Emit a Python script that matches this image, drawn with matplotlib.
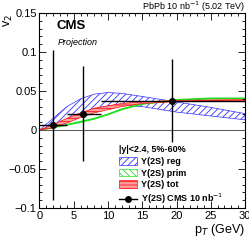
import numpy as np
import matplotlib
matplotlib.use("Agg")
import matplotlib.pyplot as plt
from matplotlib.patches import Patch
from matplotlib.lines import Line2D
from matplotlib.ticker import MultipleLocator, FuncFormatter

plt.rcParams['font.family'] = ['Liberation Sans', 'DejaVu Sans']
plt.rcParams['hatch.linewidth'] = 0.6

# model bands: pT grid and lower / upper edges of v2
pt_band = [0, 2, 4, 6, 8, 10, 12, 15, 20, 25, 30]
reg_lo = [0, 0.006, 0.014, 0.021, 0.027, 0.031, 0.032, 0.030, 0.023, 0.018, 0.013]
reg_hi = [0, 0.015, 0.030, 0.040, 0.046, 0.048, 0.047, 0.043, 0.036, 0.029, 0.021]
tot_lo = [0, 0.003, 0.009, 0.016, 0.022, 0.026, 0.030, 0.034, 0.0365, 0.0375, 0.038]
tot_hi = [0, 0.007, 0.015, 0.022, 0.028, 0.031, 0.034, 0.036, 0.038, 0.0385, 0.039]
prim_lo = [0, 0.0028, 0.0062, 0.0098, 0.014, 0.0195, 0.026, 0.033, 0.038, 0.040, 0.040]
prim_hi = [0, 0.0038, 0.0072, 0.011, 0.015, 0.0205, 0.027, 0.034, 0.039, 0.041, 0.041]

# projected CMS points
pt_pts = [2, 6.4, 19.3]
pt_lo = [0, 4, 9]
pt_hi = [4, 9, 30]
v2_pts = [0.0064, 0.021, 0.0376]
v2_err = [0.096, 0.061, 0.053]

fig = plt.figure(figsize=(2.49, 2.40), dpi=100)
ax = fig.add_axes([0.1586, 0.1333, 0.8254, 0.8125])

ax.axhline(0, color='#555555', lw=0.7)

ax.fill_between(pt_band, reg_lo, reg_hi, facecolor='none', edgecolor='#3030ff',
                hatch='/////', lw=0.5)
ax.fill_between(pt_band, prim_lo, prim_hi, facecolor='none', edgecolor='#20e020',
                hatch='\\\\\\\\\\', lw=0.8)
ax.fill_between(pt_band, tot_lo, tot_hi, facecolor='#ffa0a0', edgecolor='#ff1010',
                hatch='-----', lw=0.5)

xerr = [np.array(pt_pts) - np.array(pt_lo), np.array(pt_hi) - np.array(pt_pts)]
ax.errorbar(pt_pts, v2_pts, xerr=xerr, yerr=v2_err, fmt='o', color='black',
            ms=4, lw=1.0, capsize=0)

ax.set_xlim(0, 30)
ax.set_ylim(-0.1, 0.15)
ax.xaxis.set_major_locator(MultipleLocator(5))
ax.xaxis.set_minor_locator(MultipleLocator(1))
ax.yaxis.set_major_locator(MultipleLocator(0.05))
ax.yaxis.set_minor_locator(MultipleLocator(0.01))
ax.yaxis.set_major_formatter(FuncFormatter(lambda v, p: ('%g' % round(v, 3)).replace('-', '\u2212')))
ax.tick_params(which='both', direction='in', top=True, right=True, labelsize=8, pad=2)
ax.tick_params(which='major', length=5, width=0.6)
ax.tick_params(which='minor', length=2.5, width=0.6)
for s in ax.spines.values():
    s.set_linewidth(0.8)

fig.text(0.984, 0.972, 'PbPb 10 nb$^{-1}$ (5.02 TeV)', ha='right', va='center', fontsize=6.5)
fig.text(0.984, 0.042, 'p$_{T}$ (GeV)', ha='right', va='center', fontsize=9)
fig.text(0.035, 0.915, 'v$_{2}$', ha='center', va='center', fontsize=9, rotation=90)
ax.text(0.085, 0.935, 'CMS', transform=ax.transAxes, fontsize=9.5, fontweight='bold', va='center')
ax.text(0.09, 0.85, 'Projection', transform=ax.transAxes, fontsize=6.5, style='italic', va='center')

handles = [Patch(facecolor='white', edgecolor='#3030ff', hatch='/////', lw=0.5),
           Patch(facecolor='white', edgecolor='#20e020', hatch='\\\\\\\\\\', lw=0.5),
           Patch(facecolor='#ffa0a0', edgecolor='#ff1010', hatch='-----', lw=0.5),
           Line2D([], [], color='black', marker='o', ms=4, lw=1.0)]
labels = ['Y(2S) reg', 'Y(2S) prim', 'Y(2S) tot', 'Y(2S) CMS 10 nb$^{-1}$']
leg = ax.legend(handles, labels, title='|y|<2.4, 5%-60%', loc='upper left',
                bbox_to_anchor=(0.36, 0.35), frameon=False,
                prop={'size': 6.5, 'weight': 'bold'}, handlelength=2.0, handleheight=0.9,
                labelspacing=0.3, handletextpad=0.5, borderpad=0.1)
leg.get_title().set_fontsize(6.5)
leg.get_title().set_fontweight('bold')
leg._legend_box.align = 'left'

fig.savefig('out.png', dpi=100)
